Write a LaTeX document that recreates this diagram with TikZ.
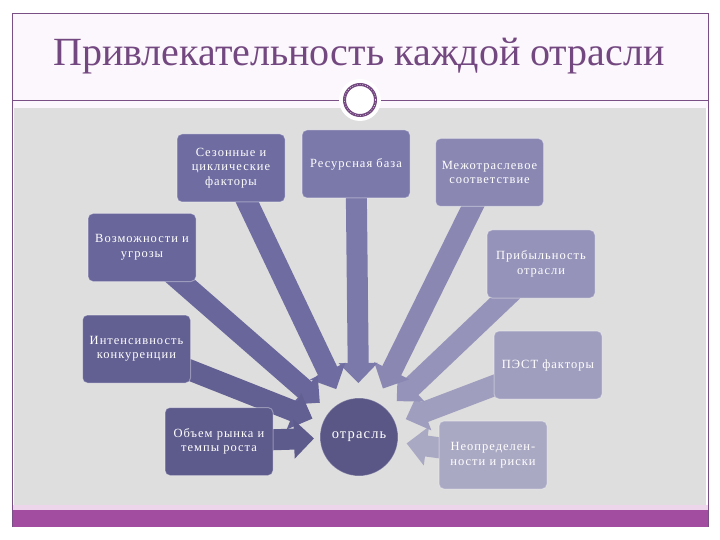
\documentclass[tikz,border=0pt]{standalone}
\usepackage{fontspec}
\setmainfont{Liberation Serif}
\newfontfamily\boxfont[LetterSpace=8]{Liberation Serif}
\usetikzlibrary{arrows.meta,calc}
\pgfdeclarelayer{back}
\pgfdeclarelayer{arr}
\pgfsetlayers{back,arr,main}
\definecolor{c1}{HTML}{5D5A8C}
\definecolor{c2}{HTML}{625F92}
\definecolor{c3}{HTML}{68669A}
\definecolor{c4}{HTML}{6E6CA0}
\definecolor{c5}{HTML}{7B79AA}
\definecolor{c6}{HTML}{8A88B3}
\definecolor{c7}{HTML}{9593B9}
\definecolor{c8}{HTML}{A09EBF}
\definecolor{c9}{HTML}{AAA9C4}
\definecolor{cc}{HTML}{5A5786}
\definecolor{titlec}{HTML}{734880}
\definecolor{framec}{HTML}{7A4F86}
\definecolor{panel}{HTML}{DEDEDE}
\definecolor{pinkbg}{HTML}{FCF7FC}
\definecolor{pinkstrip}{HTML}{EDD6EC}
\definecolor{barc}{HTML}{A24D9F}
\tikzset{
  box/.style={rounded corners=5pt, minimum width=108pt, minimum height=68pt,
    text width=106pt, align=center, text=white, inner sep=0pt,
    font=\boxfont\fontsize{12.5}{14.5}\selectfont,
    draw=white, draw opacity=0.35, line width=1pt},
  barrow/.style={line width=21pt, -{Triangle[width=38pt,length=20pt]}},
  hub/.style={circle, fill=cc, minimum size=78pt, inner sep=0pt, text=white,
    font=\boxfont\fontsize{14.5}{16}\selectfont, draw=white, draw opacity=0.3, line width=1pt}
}
\begin{document}
\begin{tikzpicture}[x=1pt,y=-1pt]
\useasboundingbox (0,0) rectangle (720,540);
\begin{pgfonlayer}{back}
  \fill[white] (0,0) rectangle (720,540);
  \fill[pinkbg] (12,13) rectangle (708,108);
  \fill[panel] (14,108) rectangle (706,505);
  \fill[pinkstrip] (12,505) rectangle (708,510);
  \fill[barc] (12,510) rectangle (708,527);
  \draw[framec, line width=0.8pt] (12,527) -- (12,13) -- (708,13) -- (708,527);
  \draw[framec, line width=0.8pt] (12,100) -- (708,100);
\end{pgfonlayer}
% ornament
\coordinate (orn) at (360,100);
\fill[white] (orn) circle (21);
\draw[titlec, line width=3pt] (orn) circle (15.5);
\draw[white, line width=0.6pt, dotted] (orn) circle (15.5);
% title
\node[anchor=base, text=titlec, font=\fontsize{40}{48}\selectfont, inner sep=0pt] (title) at (359,66) {Привлекательность каждой отрасли};
% boxes
\node[box, fill=c4] (s1) at (231,168) {Сезонные и\\циклические\\факторы};
\node[box, fill=c5] (s2) at (356,164) {Ресурсная база};
\node[box, fill=c6] (s3) at (489.5,172.5) {Межотраслевое\\соответствие};
\node[box, fill=c3] (s4) at (142,247.5) {Возможности и\\угрозы};
\node[box, fill=c7] (s5) at (541,264) {Прибыльность\\отрасли};
\node[box, fill=c2] (s6) at (136.5,349) {Интенсивность\\конкуренции};
\node[box, fill=c8] (s7) at (548,365) {ПЭСТ факторы};
\node[box, fill=c1] (s8) at (219,441.5) {Объем рынка и\\темпы роста};
\node[box, fill=c9] (s9) at (493,455) {Неопределен-\\ности и риски};
\node[hub] (ctr) at (359,437) {отрасль};
% arrows
\begin{pgfonlayer}{arr}
  \draw[barrow, c9] (s9.center) -- ($(ctr.center)!48pt!(s9.center)$);
  \draw[barrow, c8] (s7.center) -- ($(ctr.center)!50pt!(s7.center)$);
  \draw[barrow, c7] (s5.center) -- ($(ctr.center)!52pt!(s5.center)$);
  \draw[barrow, c6] (s3.center) -- ($(ctr.center)!54pt!(s3.center)$);
  \draw[barrow, c5] (s2.center) -- ($(ctr.center)!54pt!(s2.center)$);
  \draw[barrow, c4] (s1.center) -- ($(ctr.center)!53pt!(s1.center)$);
  \draw[barrow, c3] (s4.center) -- ($(ctr.center)!52pt!(s4.center)$);
  \draw[barrow, c2] (s6.center) -- ($(ctr.center)!50pt!(s6.center)$);
  \draw[barrow, c1] (s8.center) -- ($(ctr.center)!45pt!(s8.center)$);
\end{pgfonlayer}
\end{tikzpicture}
\end{document}
